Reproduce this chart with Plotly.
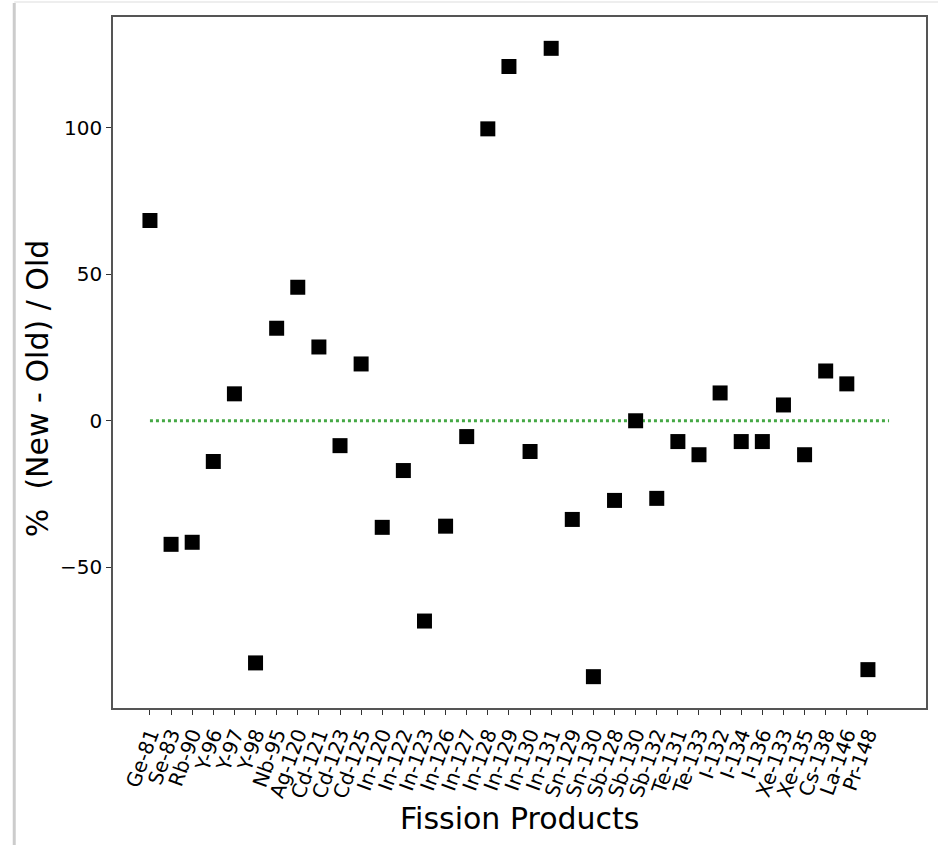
import plotly.graph_objects as go

products = ["Ge-81", "Se-83", "Rb-90", "Y-96", "Y-97", "Y-98", "Nb-95", "Ag-120",
            "Cd-121", "Cd-123", "Cd-125", "In-120", "In-122", "In-123", "In-126",
            "In-127", "In-128", "In-129", "In-130", "In-131", "Sn-129", "Sn-130",
            "Sb-128", "Sb-130", "Sb-132", "Te-131", "Te-133", "I-132", "I-134",
            "I-136", "Xe-133", "Xe-135", "Cs-138", "La-146", "Pr-148"]
pct_change = [68.4, -42.2, -41.5, -13.9, 9.2, -82.7, 31.6, 45.6,
              25.2, -8.5, 19.4, -36.4, -17.0, -68.4, -36.0,
              -5.4, 99.7, 121.0, -10.5, 127.2, -33.7, -87.4,
              -27.2, 0.0, -26.5, -7.1, -11.6, 9.5, -7.1,
              -7.1, 5.4, -11.6, 17.0, 12.6, -85.0]
y_ticks = [-50, 0, 50, 100]
x_title = "Fission Products"
y_title = "%  (New - Old) / Old"

idx = list(range(len(products)))

W, H = 940, 845
L, R, T, B = 113, 12, 17, 137
pw, ph = W - L - R, H - T - B

fig = go.Figure()
fig.add_trace(go.Scatter(
    x=[0, len(products)], y=[0, 0], mode="lines",
    line=dict(color="#45a845", width=3, dash="dot"),
    hoverinfo="skip", showlegend=False))
fig.add_trace(go.Scatter(
    x=idx, y=pct_change, mode="markers",
    marker=dict(symbol="square", size=15, color="black"),
    showlegend=False))

def px_x(p):
    return (p - L) / pw

def px_y(p):
    return (H - B - p) / ph

fig.update_layout(
    width=W, height=H,
    margin=dict(l=L, r=R, t=T, b=B),
    paper_bgcolor="white", plot_bgcolor="white",
    font=dict(family="DejaVu Sans", color="black"),
    shapes=[
        dict(type="line", xref="paper", yref="paper",
             x0=px_x(14), x1=px_x(14), y0=px_y(3), y1=px_y(845),
             line=dict(color="#cccccc", width=3)),
        dict(type="line", xref="paper", yref="paper",
             x0=px_x(14), x1=px_x(940), y0=px_y(2), y1=px_y(2),
             line=dict(color="#eeeeee", width=2)),
    ],
    annotations=[
        dict(text=x_title, xref="paper", yref="paper",
             x=px_x(520), y=px_y(818), xanchor="center", yanchor="middle",
             showarrow=False, font=dict(size=30)),
        dict(text=y_title, xref="paper", yref="paper", textangle=-90,
             x=px_x(37), y=px_y(389), xanchor="center", yanchor="middle",
             showarrow=False, font=dict(size=30)),
    ],
)
fig.update_xaxes(
    range=[-1.75, 36.75],
    tickmode="array", tickvals=idx, ticktext=products,
    tickangle=-70, tickfont=dict(size=20),
    ticks="outside", ticklen=5, tickcolor="#333",
    showline=True, linecolor="#555", linewidth=1.5, mirror=True,
    showgrid=False, zeroline=False,
)
fig.update_yaxes(
    range=[-98.1, 137.9],
    tickmode="array", tickvals=y_ticks,
    tickfont=dict(size=20),
    ticks="outside", ticklen=5, tickcolor="#333",
    showline=True, linecolor="#555", linewidth=1.5, mirror=True,
    showgrid=False, zeroline=False,
)

fig.write_html("out.html")
